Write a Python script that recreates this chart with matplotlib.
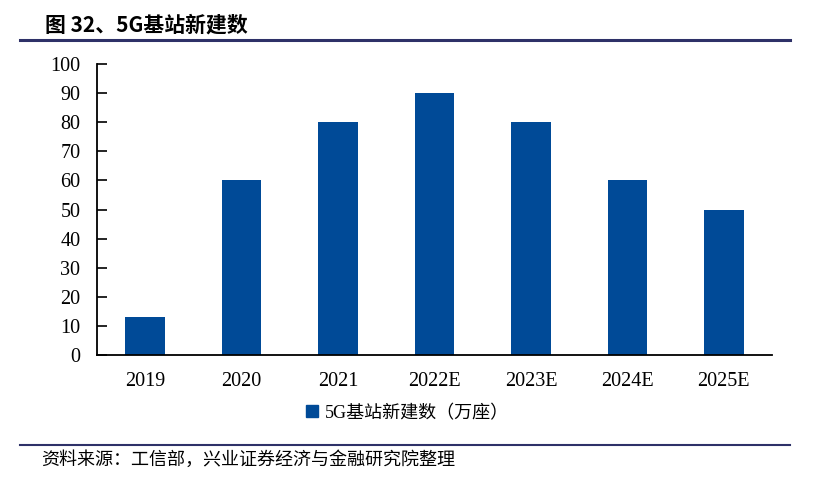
import matplotlib
matplotlib.use('Agg')
import matplotlib.pyplot as plt
from matplotlib.lines import Line2D
from matplotlib.patches import Patch

years = ['2019', '2020', '2021', '2022E', '2023E', '2024E', '2025E']
values = [13, 60, 80, 90, 80, 60, 50]
yticks = [0, 10, 20, 30, 40, 50, 60, 70, 80, 90, 100]

bar_color = '#004A97'
navy = '#2E3168'
cjk = ['Noto Sans CJK SC', 'DejaVu Sans']
serif = ['Liberation Serif', 'Noto Sans CJK SC']

fig = plt.figure(figsize=(8.18, 4.82), dpi=100)
ax = fig.add_axes([0.1186, 0.2635, 0.8252, 0.6037])

x = range(len(years))
ax.bar(x, values, width=0.41, color=bar_color, label='5G基站新建数（万座）')
ax.set_xlim(-0.5, len(years) - 0.5)
ax.set_ylim(0, 100)
ax.set_yticks(yticks)
ax.set_xticks(list(x))
ax.set_xticklabels(years)
for lab in ax.get_xticklabels() + ax.get_yticklabels():
    lab.set_family(serif)
    lab.set_fontsize(14.5)
ax.tick_params(axis='x', length=0, pad=12)
ax.tick_params(axis='y', direction='in', length=7, width=1.2, pad=12)
for s in ['top', 'right']:
    ax.spines[s].set_visible(False)
ax.spines['left'].set_linewidth(1.3)
ax.spines['bottom'].set_linewidth(1.3)

leg = ax.legend(handles=[Patch(color=bar_color, label='5G基站新建数（万座）')],
                loc='center', bbox_to_anchor=(0.46, -0.2), frameon=False,
                handlelength=0.65, handleheight=0.65, handletextpad=0.4,
                prop={'family': serif, 'size': 13})

fig.text(0.055, 0.948, '图 32、5G基站新建数', family=cjk, fontsize=15,
         fontweight='bold', va='center', ha='left')
fig.add_artist(Line2D([0.024, 0.966], [0.918, 0.918], color=navy, lw=2.2))
fig.add_artist(Line2D([0.024, 0.966], [0.077, 0.077], color=navy, lw=1.5))
fig.text(0.05, 0.045, '资料来源：工信部，兴业证券经济与金融研究院整理', family=cjk,
         fontsize=13, va='center', ha='left')

fig.savefig('out.png', dpi=100)
